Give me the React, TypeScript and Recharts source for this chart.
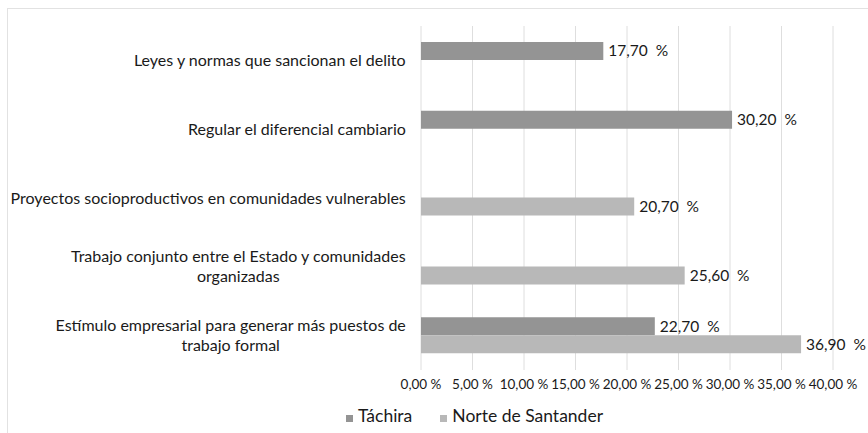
import React from "react";
import { BarChart, Bar, XAxis, YAxis, CartesianGrid, LabelList } from "recharts";

// categorias (de arriba hacia abajo), "\n" marca el salto de linea
const categorias = [
  "Leyes y normas que sancionan el delito",
  "Regular el diferencial cambiario",
  "Proyectos socioproductivos en comunidades vulnerables",
  "Trabajo conjunto entre el Estado y comunidades\norganizadas",
  "Estímulo empresarial para generar más puestos de\ntrabajo formal",
];

const tachira = [17.7, 30.2, null, null, 22.7];
const norteSantander = [null, null, 20.7, 25.6, 36.9];

const ticksX = [0, 5, 10, 15, 20, 25, 30, 35, 40];

const SERIES = [
  { key: "tachira", name: "Táchira", color: "#949494" },
  { key: "norte", name: "Norte de Santander", color: "#b8b8b8" },
];

const data = categorias.map((c, i) => ({
  categoria: c,
  tachira: tachira[i],
  norte: norteSantander[i],
}));

const FONT = "Lato, 'Open Sans', sans-serif";
const CAT_SIZE = 16;
const fmt = (v: number) => v.toFixed(2).replace(".", ",") + " %";

// medir el ancho del texto para centrar las lineas del bloque
let ctx: CanvasRenderingContext2D | null = null;
function textWidth(s: string) {
  if (!ctx) ctx = document.createElement("canvas").getContext("2d");
  if (!ctx) return s.length * CAT_SIZE * 0.5;
  ctx.font = `${CAT_SIZE}px Lato`;
  return ctx.measureText(s).width;
}

// eslint-disable-next-line @typescript-eslint/no-explicit-any
function CategoryTick(props: any) {
  const { x, y, payload } = props;
  const lines: string[] = String(payload.value).split("\n");
  const lh = 20;
  const start = y - ((lines.length - 1) * lh) / 2;
  const blockW = Math.max(...lines.map(textWidth));
  const cx = x - blockW / 2;
  return (
    <text x={cx} y={start} textAnchor="middle" fill="#1a1a1a" fontSize={CAT_SIZE} fontFamily={FONT}>
      {lines.map((l, i) => (
        <tspan key={i} x={cx} y={start + i * lh} dy="0.35em">
          {l}
        </tspan>
      ))}
    </text>
  );
}

// eslint-disable-next-line @typescript-eslint/no-explicit-any
function ValueLabel(props: any) {
  const { x, y, width, height, value } = props;
  if (value === null || value === undefined) return null;
  return (
    <text x={x + width + 5} y={y + height / 2} dy="0.35em" fill="#1a1a1a" fontSize={15.5} fontFamily={FONT}
      style={{ whiteSpace: "pre" }}>
      {fmt(value).replace(" %", "  %")}
    </text>
  );
}

export default function App() {
  return (
    <div style={{ position: "absolute", left: 0, top: 0, width: 868, height: 433, overflow: "hidden", background: "#fff" }}>
      <div style={{ position: "absolute", left: 7, top: 8, width: 900, height: 500, border: "1px solid #e2e2e2" }} />
      <div style={{ position: "absolute", left: 0, top: 0 }}>
        <BarChart
          width={868}
          height={433}
          data={data}
          layout="vertical"
          margin={{ top: 26, right: 35, left: 0, bottom: 33 }}
          barSize={18}
          barGap={0}
        >
          <CartesianGrid horizontal={false} stroke="#dedede" strokeWidth={1} />
          <XAxis
            type="number"
            domain={[0, 40]}
            ticks={ticksX}
            height={30}
            axisLine={false}
            tickLine={false}
            tickSize={0}
            tickMargin={9}
            interval={0}
            tickFormatter={fmt}
            tick={{ fill: "#1a1a1a", fontSize: 13.5, fontFamily: FONT }}
          />
          <YAxis
            type="category"
            dataKey="categoria"
            width={421}
            axisLine={false}
            tickLine={false}
            tickSize={0}
            tickMargin={15}
            interval={0}
            tick={<CategoryTick />}
          />
          {SERIES.map((s) => (
            <Bar key={s.key} dataKey={s.key} name={s.name} fill={s.color} isAnimationActive={false}>
              <LabelList dataKey={s.key} content={<ValueLabel />} />
            </Bar>
          ))}
        </BarChart>
      </div>
      <div style={{ position: "absolute", left: 346, top: 405, display: "flex", fontFamily: FONT, fontSize: 17.5, color: "#1a1a1a" }}>
        {SERIES.map((s, i) => (
          <div key={s.key} style={{ display: "flex", alignItems: "center", marginRight: i === 0 ? 28 : 0 }}>
            <span style={{ width: 7, height: 7, background: s.color, display: "inline-block", marginRight: 5, marginTop: 5 }} />
            <span>{s.name}</span>
          </div>
        ))}
      </div>
    </div>
  );
}
